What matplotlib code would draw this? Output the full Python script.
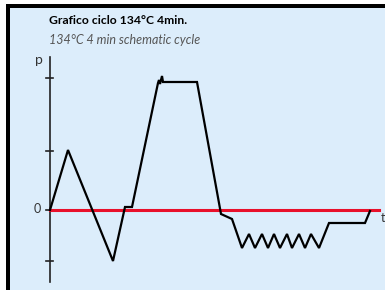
import matplotlib
matplotlib.use('Agg')
import matplotlib.pyplot as plt
from matplotlib.patches import Rectangle

# schematic cycle: time / pressure in arbitrary units (origin = start of cycle)
t = [0, 18, 63, 75, 82, 108, 109, 110, 112, 113, 115, 147, 171, 182,
     192, 199, 205, 212, 218, 224, 230, 237, 242, 249, 255, 261, 269,
     279, 315, 320]
p = [0, 60, -51, 3, 3, 127, 130, 126, 134, 128, 128, 128, -4, -9,
     -38, -24, -38, -24, -38, -24, -38, -24, -38, -24, -38, -24, -38,
     -13, -13, -1]
p_ticks = [132, 59, 0, -51]
t_end = 329

title = 'Grafico ciclo 134°C 4min.'
subtitle = '134°C 4 min schematic cycle'

W, H = 385, 290
fig = plt.figure(figsize=(W / 100, H / 100), dpi=100)
fig.patch.set_facecolor('white')

def fx(px):
    return px / W

def fy(py):
    return 1 - py / H

# light blue panel and black frame (top + left), behind the axes
fig.add_artist(Rectangle((fx(8), 0), 1 - fx(8), fy(6),
                         facecolor='#dcedfb', edgecolor='none', zorder=-10))
fig.add_artist(Rectangle((fx(6), fy(8)), 1 - fx(6), fy(4) - fy(8),
                         facecolor='black', edgecolor='none', zorder=-9))
fig.add_artist(Rectangle((fx(6), 0), fx(10) - fx(6), fy(4),
                         facecolor='black', edgecolor='none', zorder=-9))

ax = fig.add_axes([0, 0, 1, 1])
ax.set_xlim(-50, W - 50)
ax.set_ylim(-(H - 210), 210)
ax.axis('off')
ax.patch.set_alpha(0)

# axes of the schematic
ax.plot([0, 0], [153, -72], color='#222222', lw=1.2)
for v in p_ticks:
    ax.plot([-3.5, 3.5], [v, v], color='#222222', lw=1.2)
ax.plot([0, t_end], [0, 0], color='#e8102a', lw=2.2)
ax.plot(t, p, color='black', lw=1.6, solid_joinstyle='miter')

ax.text(-9, 1, '0', ha='right', va='center', fontsize=9,
        color='#333333', family='Lato')
ax.text(-7, 150, 'p', ha='right', va='center', fontsize=10,
        color='#333333', family='Lato')
ax.text(t_end + 2, -8, 't', ha='left', va='center', fontsize=9,
        color='#333333', family='Lato')

fig.text(fx(49), fy(24), title, ha='left', va='baseline', fontsize=8.7,
         fontweight='bold', family='Lato', color='black')
fig.text(fx(49), fy(44), subtitle, ha='left', va='baseline', fontsize=9,
         fontstyle='italic', family='Lato', color='#555555')

fig.savefig('out.png', dpi=100)
